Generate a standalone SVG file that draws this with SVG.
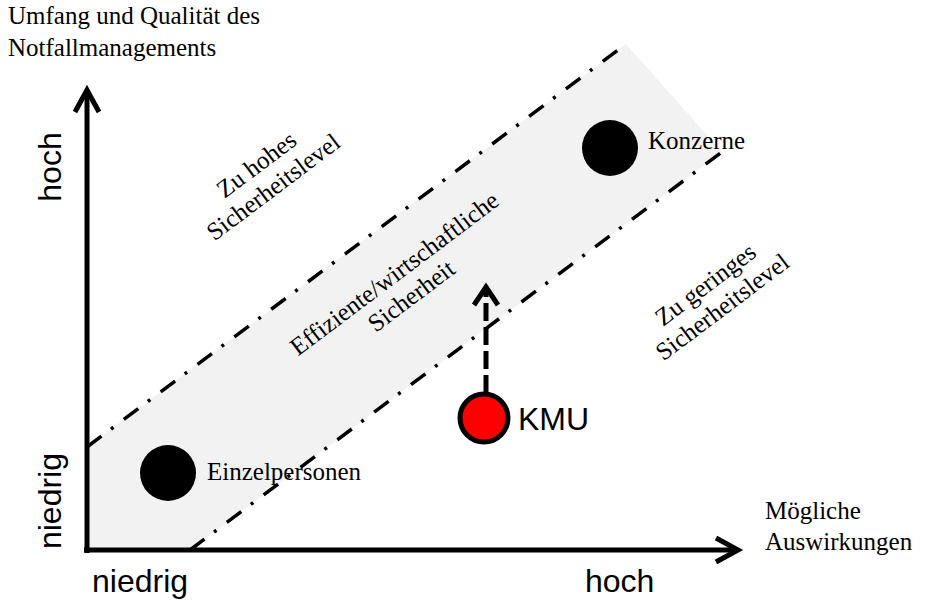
<svg xmlns="http://www.w3.org/2000/svg" width="925" height="600" viewBox="0 0 925 600">
<style>
.serif{font-family:"Liberation Serif","Times New Roman",serif;font-size:25px;fill:#000}
.sans{font-family:"Liberation Sans",Arial,sans-serif;font-size:32px;fill:#000}
.dd{fill:none;stroke:#000;stroke-width:3.5;stroke-dasharray:18 12 3 13}
.axis{fill:none;stroke:#000;stroke-width:5}
</style>
<rect width="925" height="600" fill="#fff"/>
<g id="band">
<polygon points="87,447 626,44 722,152 190,550 87,550" fill="#f2f2f2"/>
<line class="dd" x1="87" y1="447" x2="626" y2="44"/>
<line class="dd" x1="190" y1="550" x2="722" y2="152"/>
</g>
<g id="connectors">
<line class="axis" x1="87" y1="553" x2="87" y2="92"/>
<polyline class="axis" points="75,112 87,90 99,112" stroke-linejoin="miter"/>
<line class="axis" x1="84" y1="550" x2="736" y2="550"/>
<polyline class="axis" points="716,538 738,550 716,562"/>
<line x1="486" y1="393" x2="486" y2="290" stroke="#000" stroke-width="5" stroke-dasharray="18 6"/>
<polyline class="axis" points="474,305 486,287 498,305"/>
</g>
<g id="yaxis-label">
<text class="serif" x="8" y="24">Umfang und Qualität des</text>
<text class="serif" x="8" y="56">Notfallmanagements</text>
</g>
<g id="xaxis-label">
<text class="serif" x="765" y="519">Mögliche</text>
<text class="serif" x="765" y="550">Auswirkungen</text>
</g>
<g id="y-hoch"><text class="sans" transform="translate(61,167) rotate(-90)" text-anchor="middle">hoch</text></g>
<g id="y-niedrig"><text class="sans" transform="translate(61,501) rotate(-90)" text-anchor="middle">niedrig</text></g>
<g id="x-niedrig"><text class="sans" x="92" y="592">niedrig</text></g>
<g id="x-hoch"><text class="sans" x="585" y="592">hoch</text></g>
<g id="zu-hohes">
<text class="serif" transform="translate(265,176) rotate(-37)" text-anchor="middle"><tspan x="0" y="-6">Zu hohes</tspan><tspan x="0" y="22">Sicherheitslevel</tspan></text>
</g>
<g id="effizient">
<text class="serif" transform="translate(403,285) rotate(-37)" text-anchor="middle"><tspan x="0" y="-6">Effiziente/wirtschaftliche</tspan><tspan x="0" y="22">Sicherheit</tspan></text>
</g>
<g id="zu-geringes">
<text class="serif" transform="translate(714,296) rotate(-37)" text-anchor="middle"><tspan x="0" y="-6">Zu geringes</tspan><tspan x="0" y="22">Sicherheitslevel</tspan></text>
</g>
<g id="einzelpersonen">
<circle cx="168" cy="473" r="28" fill="#000"/>
<text class="serif" x="207" y="480">Einzelpersonen</text>
</g>
<g id="konzerne">
<circle cx="610" cy="148" r="28" fill="#000"/>
<text class="serif" x="648" y="149">Konzerne</text>
</g>
<g id="kmu">
<circle cx="484" cy="418" r="24" fill="#ff0000" stroke="#000" stroke-width="5"/>
<text class="sans" x="518" y="430">KMU</text>
</g>
</svg>
